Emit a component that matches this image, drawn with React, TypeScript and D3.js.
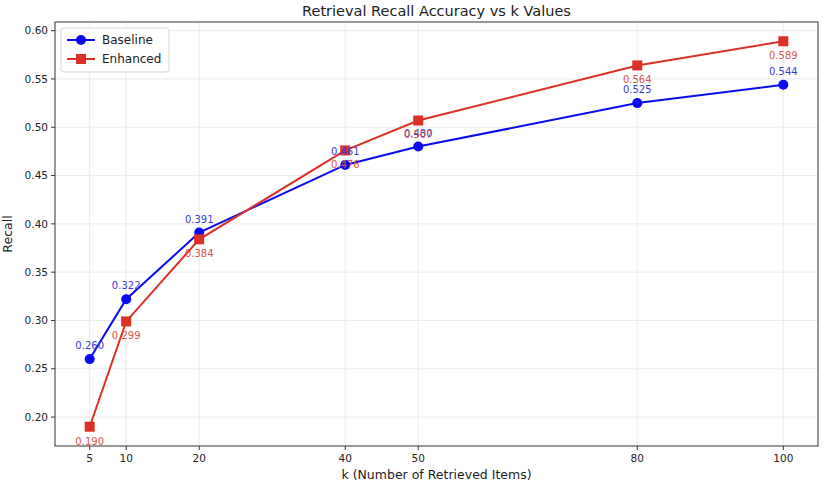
import React from 'react';
import * as d3 from 'd3';

const kValues = [5, 10, 20, 40, 50, 80, 100];
const baseline = [0.26, 0.322, 0.391, 0.461, 0.48, 0.525, 0.544];
const enhanced = [0.19, 0.299, 0.384, 0.476, 0.507, 0.564, 0.589];
const yTicks = [0.2, 0.25, 0.3, 0.35, 0.4, 0.45, 0.5, 0.55, 0.6];

const W = 825;
const H = 483;
const margin = { top: 22, right: 7, bottom: 37, left: 55 };

const BLUE = '#0a0af0';
const RED = '#dc2f25';
const FONT = 'DejaVu Sans, sans-serif';

const App: React.FC = () => {
  const innerW = W - margin.left - margin.right;
  const innerH = H - margin.top - margin.bottom;

  // matplotlib-style 5% padding on both axes
  const x = d3.scaleLinear().domain([0.25, 104.75]).range([0, innerW]);
  const y = d3.scaleLinear().domain([0.17005, 0.60895]).range([innerH, 0]);

  const line = d3
    .line<number>()
    .x((_, i) => x(kValues[i]))
    .y(d => y(d));

  return (
    <svg
      width={W}
      height={H}
      style={{ position: 'absolute', left: 0, top: 0, background: '#fff' }}
      fontFamily={FONT}
    >
      <text x={margin.left + innerW / 2} y={16} textAnchor="middle" fontSize={14.5} fill="#222">
        Retrieval Recall Accuracy vs k Values
      </text>
      <g transform={`translate(${margin.left},${margin.top})`}>
        {/* grid */}
        {kValues.map(k => (
          <line key={'gx' + k} x1={x(k)} x2={x(k)} y1={0} y2={innerH} stroke="#e6e6e6" strokeWidth={0.8} />
        ))}
        {yTicks.map(t => (
          <line key={'gy' + t} x1={0} x2={innerW} y1={y(t)} y2={y(t)} stroke="#e6e6e6" strokeWidth={0.8} />
        ))}

        {/* lines */}
        <path d={line(baseline) || ''} fill="none" stroke={BLUE} strokeWidth={2} />
        <path d={line(enhanced) || ''} fill="none" stroke={RED} strokeWidth={2} />

        {/* markers */}
        {baseline.map((v, i) => (
          <circle key={'b' + i} cx={x(kValues[i])} cy={y(v)} r={5} fill={BLUE} />
        ))}
        {enhanced.map((v, i) => (
          <rect key={'e' + i} x={x(kValues[i]) - 5} y={y(v) - 5} width={10} height={10} fill={RED} />
        ))}

        {/* value labels */}
        {baseline.map((v, i) => (
          <text key={'bl' + i} x={x(kValues[i])} y={y(v) - 10} textAnchor="middle" fontSize={10} fill="#3b3bd6">
            {v.toFixed(3)}
          </text>
        ))}
        {enhanced.map((v, i) => (
          <text key={'el' + i} x={x(kValues[i])} y={y(v) + 18} textAnchor="middle" fontSize={10} fill="#d9534f">
            {v.toFixed(3)}
          </text>
        ))}

        {/* spines */}
        <rect x={0} y={0} width={innerW} height={innerH} fill="none" stroke="#333" strokeWidth={1} />

        {/* x ticks */}
        {kValues.map(k => (
          <g key={'xt' + k} transform={`translate(${x(k)},${innerH})`}>
            <line y2={4} stroke="#333" />
            <text y={16} textAnchor="middle" fontSize={10.5} fill="#222">
              {k}
            </text>
          </g>
        ))}
        {/* y ticks */}
        {yTicks.map(t => (
          <g key={'yt' + t} transform={`translate(0,${y(t)})`}>
            <line x2={-4} stroke="#333" />
            <text x={-7} dy="0.35em" textAnchor="end" fontSize={10.5} fill="#222">
              {t.toFixed(2)}
            </text>
          </g>
        ))}

        <text x={innerW / 2} y={innerH + 33} textAnchor="middle" fontSize={12.5} fill="#222">
          k (Number of Retrieved Items)
        </text>
        <text transform={`translate(${-43},${innerH / 2}) rotate(-90)`} textAnchor="middle" fontSize={12.5} fill="#222">
          Recall
        </text>

        {/* legend */}
        <g transform="translate(6,6)">
          <rect width={108} height={44} rx={3} fill="#fff" fillOpacity={0.85} stroke="#d5d5d5" />
          <line x1={6} x2={34} y1={12} y2={12} stroke={BLUE} strokeWidth={2} />
          <circle cx={20} cy={12} r={5} fill={BLUE} />
          <text x={41} y={16} fontSize={12} fill="#222">Baseline</text>
          <line x1={6} x2={34} y1={31} y2={31} stroke={RED} strokeWidth={2} />
          <rect x={15} y={26} width={10} height={10} fill={RED} />
          <text x={41} y={35} fontSize={12} fill="#222">Enhanced</text>
        </g>
      </g>
    </svg>
  );
};

export default App;
